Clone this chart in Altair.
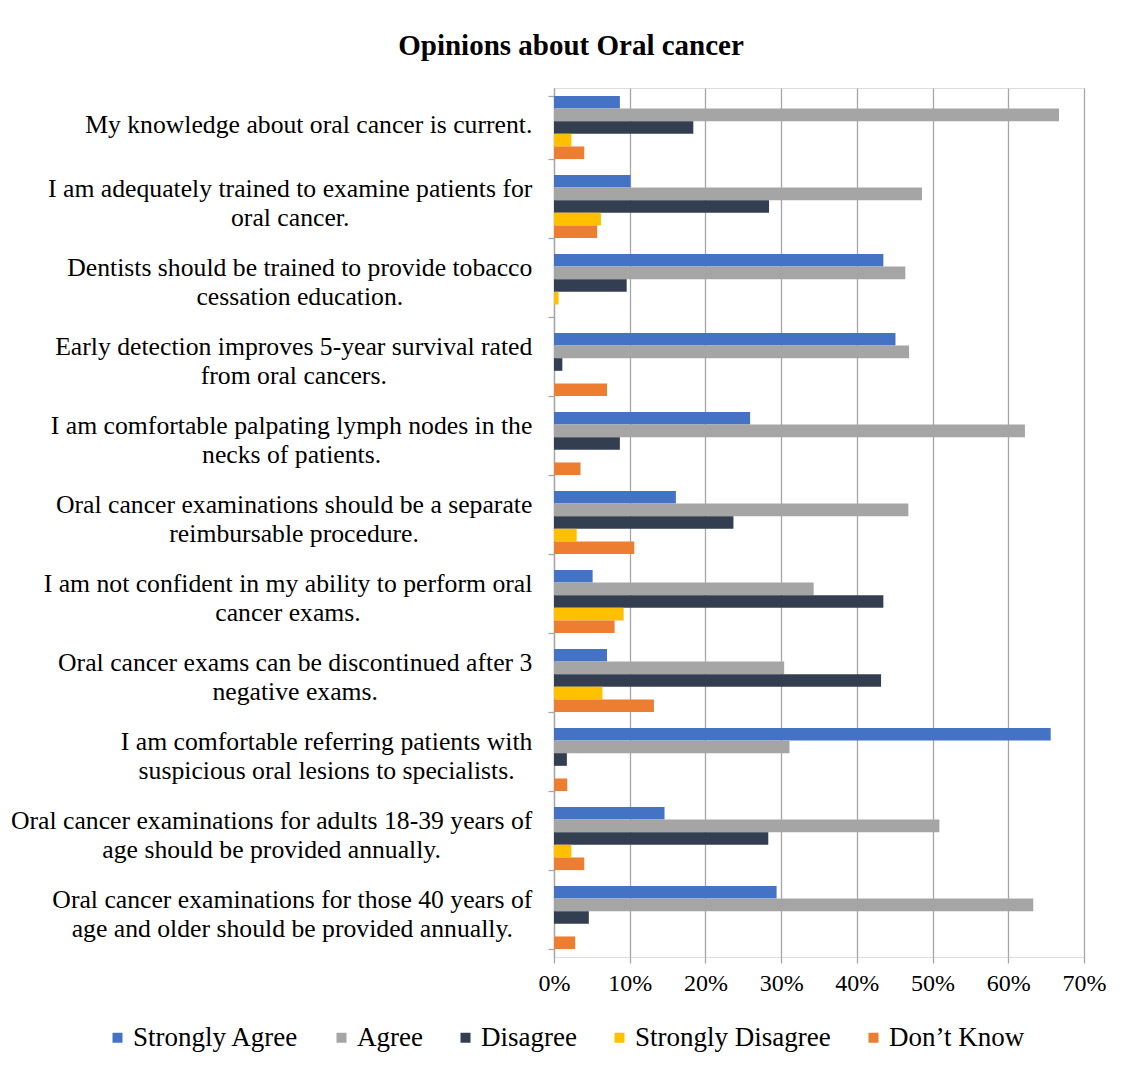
import json
import altair as alt
import pandas as pd

categories = [
    "My knowledge about oral cancer is current.",
    "I am adequately trained to examine patients for|oral cancer.",
    "Dentists should be trained to provide tobacco|cessation education.",
    "Early detection improves 5-year survival rated|from oral cancers.",
    "I am comfortable palpating lymph nodes in the|necks of patients.",
    "Oral cancer examinations should be a separate|reimbursable procedure.",
    "I am not confident in my ability to perform oral|cancer exams.",
    "Oral cancer exams can be discontinued after 3|negative exams.",
    "I am comfortable referring patients with|suspicious oral lesions to specialists.",
    "Oral cancer examinations for adults 18-39 years of|age should be provided annually.",
    "Oral cancer examinations for those 40 years of|age and older should be provided annually.",
]
series = ["Strongly Agree", "Agree", "Disagree", "Strongly Disagree", "Don\u2019t Know"]
colors = ["#4472C4", "#A5A5A5", "#333F50", "#FFC000", "#ED7D31"]

strongly_agree = [8.7, 10.1, 43.5, 45.1, 25.9, 16.1, 5.1, 7.0, 65.6, 14.6, 29.4]
agree = [66.7, 48.6, 46.4, 46.9, 62.2, 46.8, 34.3, 30.4, 31.1, 50.9, 63.3]
disagree = [18.4, 28.4, 9.6, 1.1, 8.7, 23.7, 43.5, 43.2, 1.7, 28.3, 4.6]
strongly_disagree = [2.3, 6.2, 0.6, 0.0, 0.0, 3.0, 9.2, 6.4, 0.0, 2.3, 0.0]
dont_know = [4.0, 5.7, 0.0, 7.0, 3.5, 10.6, 8.0, 13.2, 1.75, 4.0, 2.8]
x_ticks = [0, 10, 20, 30, 40, 50, 60, 70]

values = [strongly_agree, agree, disagree, strongly_disagree, dont_know]
rows = []
for s, vals in zip(series, values):
    for c, v in zip(categories, vals):
        rows.append({"category": c, "series": s, "value": v})
df = pd.DataFrame(rows)

# Times / Liberation Serif advance widths (per 1000 em) to centre wrapped label lines
W = {" ": 250, "-": 333, ".": 250, "'": 180, "\u2019": 333, ",": 250}
for ch in "0123456789":
    W[ch] = 500
W.update(dict(zip("abcdefghijklmnopqrstuvwxyz",
                  [444, 500, 444, 500, 444, 333, 500, 500, 278, 278, 500, 278, 778,
                   500, 500, 500, 500, 333, 389, 278, 500, 500, 722, 500, 500, 444])))
W.update(dict(zip("ABCDEFGHIJKLMNOPQRSTUVWXYZ",
                  [722, 667, 667, 722, 611, 556, 722, 722, 333, 389, 722, 611, 889,
                   722, 722, 556, 722, 667, 556, 611, 722, 722, 944, 722, 722, 611])))

LABEL_SIZE = 25.7
TICK = 6
BASE_PAD = 16


def block_width(label):
    return max(sum(W.get(ch, 500) for ch in line) for line in label.split("|")) / 1000 * LABEL_SIZE


pad_condition = [
    {"test": f"datum.value === {json.dumps(c)}", "value": BASE_PAD + block_width(c) / 2}
    for c in categories
]
offset_condition = [
    {"test": "isString(datum.value) && indexof(datum.value, '|') >= 0", "value": -18}
]

FONT = "Liberation Serif"
GRID = "#A6A6A6"

chart = (
    alt.Chart(df)
    .mark_bar()
    .encode(
        x=alt.X(
            "value:Q",
            scale=alt.Scale(domain=[0, 70], nice=False),
            axis=alt.Axis(
                values=x_ticks,
                labelExpr="datum.value + '%'",
                title=None,
                domain=False,
                grid=True,
                gridColor=GRID,
                gridWidth=1.3,
                tickColor=GRID,
                tickSize=6,
                tickWidth=1.3,
                labelFont=FONT,
                labelFontSize=24,
                labelColor="black",
                labelPadding=8,
                labelFlush=False,
                labelOverlap=False,
            ),
        ),
        y=alt.Y(
            "category:N",
            sort=categories,
            scale=alt.Scale(paddingInner=0.2, paddingOuter=0.1),
            axis=alt.Axis(
                title=None,
                labelExpr="isString(datum.value) ? split(datum.value, '|') : ''",
                labelAlign="center",
                labelBaseline="middle",
                labelPadding={"condition": pad_condition, "value": BASE_PAD},
                labelOffset={"condition": offset_condition, "value": -3},
                labelFont=FONT,
                labelFontSize=LABEL_SIZE,
                labelLineHeight=29,
                labelColor="black",
                labelLimit=0,
                tickBand="extent",
                tickSize=TICK,
                tickColor=GRID,
                tickWidth=1.3,
                domainColor=GRID,
                domainWidth=1.3,
                grid=False,
            ),
        ),
        yOffset=alt.YOffset("series:N", sort=series, scale=alt.Scale(paddingInner=0, paddingOuter=0)),
        color=alt.Color(
            "series:N",
            sort=series,
            scale=alt.Scale(domain=series, range=colors),
            legend=alt.Legend(
                orient="none",
                legendX=-450,
                legendY=936,
                direction="horizontal",
                title=None,
                labelFont=FONT,
                labelFontSize=27,
                labelColor="black",
                labelLimit=0,
                symbolType="square",
                symbolSize=100,
                symbolStrokeWidth=0,
                columnPadding=29,
                labelOffset=2,
            ),
        ),
    )
    .properties(
        width=530,
        height=869,
        title=alt.TitleParams(
            "Opinions about Oral cancer",
            font=FONT,
            fontSize=29,
            fontWeight="bold",
            color="black",
            anchor="middle",
            frame="group",
            dx=-248,
            dy=37,
            offset=28,
            baseline="alphabetic",
        ),
        padding={"left": 554, "top": 88, "right": 52, "bottom": 111},
        autosize=alt.AutoSizeParams(type="none"),
    )
    .configure_view(stroke=None)
    .configure(background="white")
)

chart.save("out.html", embed_options={"renderer": "svg", "actions": False})
